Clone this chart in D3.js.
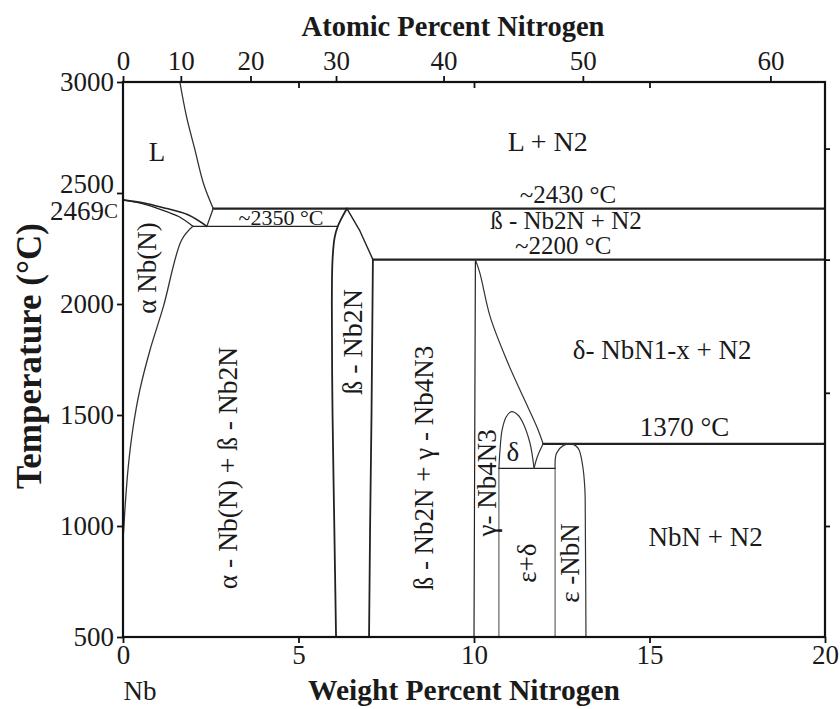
<!DOCTYPE html>
<html>
<head>
<meta charset="utf-8">
<script src="https://cdn.jsdelivr.net/npm/d3@7"></script>
<style>
  html, body { margin: 0; padding: 0; background: #fff; }
  svg { display: block; }
  text { font-family: "Liberation Serif", "Times New Roman", serif; fill: #1a1a1a; }
</style>
</head>
<body>
<svg id="chart" width="840" height="709"></svg>
<script>
// ---- axis ticks ----
const tempTicks = [500, 1000, 1500, 2000, 2500, 3000];
const weightTicks = [0, 5, 10, 15, 20];
const atomicTicks = [0, 10, 20, 30, 40, 50, 60];
const rightTicks = [2700, 2200, 1600, 1000];

// ---- invariant reactions (°C) and their composition spans (wt% N) ----
const isothermTemps = [2430, 2350, 2200, 1370, 1260];
const isothermFrom  = [2.57, 1.99, 7.12, 11.97, 10.71];
const isothermTo    = [20,   6.12, 20,   20,    12.31];

// ---- phase boundaries, [wt% N, °C] ----
const liquidus      = [[1.62, 3000], [1.81, 2844], [2.05, 2694], [2.29, 2544], [2.57, 2430]];
const liquidusTail  = [[2.57, 2430], [2.39, 2350]];
const solidusUpper  = [[0, 2469], [0.6, 2455], [1.1, 2436], [1.85, 2402], [2.39, 2350]];
const solidusLower  = [[0, 2469], [0.6, 2450], [1.0, 2430], [1.6, 2393], [1.99, 2350]];
const alphaSolvus   = [[1.99, 2350], [1.67, 2288], [1.15, 1988], [0.77, 1793], [0.48, 1613],
                       [0.29, 1447], [0.15, 1267], [0.06, 1087], [0.02, 982], [0, 940]];
const betaLeft      = [[6.38, 2430], [6.24, 2390], [6.12, 2350], [6.03, 2300], [5.97, 2200],
                       [5.95, 2000], [5.97, 1500], [6.02, 1000], [6.07, 500]];
const betaRight     = [[6.38, 2430], [6.75, 2329], [7.12, 2200]];
const betaRightWall = [[7.12, 2200], [7.08, 1500], [7.04, 1000], [7.01, 500]];
const gammaLeftWall = [[10.04, 2200], [10.0, 500]];
const gammaSolvus   = [[10.04, 2200], [10.17, 2138], [10.46, 1943], [10.93, 1748],
                       [11.4, 1582], [11.79, 1447], [11.97, 1370]];
const gammaTail     = [[11.97, 1370], [11.8, 1310], [11.71, 1260]];
const deltaDome     = [[10.71, 1260], [10.74, 1340], [10.8, 1432], [10.92, 1492], [11.07, 1515],
                       [11.25, 1500], [11.4, 1463], [11.6, 1370], [11.71, 1260]];
const gammaRightWall = [[10.71, 1260], [10.71, 500]];
const epsLeftWall   = [[12.31, 1260], [12.31, 500]];
const epsDome       = [[12.31, 1260], [12.35, 1328], [12.54, 1362], [12.78, 1370], [12.97, 1350],
                       [13.1, 1267], [13.16, 1162], [13.17, 1059], [13.19, 500]];

// ---- region labels ----
const regionNames = ["L", "L + N2", "~2430 °C", "ß - Nb2N + N2", "~2200 °C", "~2350 °C",
                     "δ- NbN1-x + N2", "1370 °C", "NbN + N2", "δ"];
const verticalNames = ["α Nb(N)", "α - Nb(N) + ß - Nb2N", "ß - Nb2N", "ß - Nb2N + γ - Nb4N3",
                       "γ- Nb4N3", "ε+δ", "ε -NbN"];

// ---- layout ----
const svg = d3.select("#chart");
const x = d3.scaleLinear().domain([0, 20]).range([123, 825]);
const y = d3.scaleLinear().domain([500, 3000]).range([637, 82]);

// wt% N for a given at% N (Nb 92.906, N 14.007)
const atToWt = a => 100 * a * 14.007 / (a * 14.007 + (100 - a) * 92.906);

const smooth = d3.line().x(d => x(d[0])).y(d => y(d[1])).curve(d3.curveCatmullRom.alpha(0.5));
const straight = d3.line().x(d => x(d[0])).y(d => y(d[1]));

const plot = svg.append("g");

function drawPath(data, gen, width, color) {
  plot.append("path").attr("d", gen(data)).attr("fill", "none")
    .attr("stroke", color || "#222").attr("stroke-width", width)
    .attr("stroke-linejoin", "round").attr("stroke-linecap", "round");
}

// isotherms
const isoWidth = [2.2, 1.2, 2.2, 2.2, 1.2];
isothermTemps.forEach((t, i) => {
  drawPath([[isothermFrom[i], t], [isothermTo[i], t]], straight, isoWidth[i]);
});

// boundaries
drawPath(liquidus, smooth, 1.3, "#333");
drawPath(liquidusTail, straight, 1.3, "#333");
drawPath(solidusUpper, smooth, 1.6);
drawPath(solidusLower, smooth, 1.3);
drawPath(alphaSolvus, smooth, 1.3, "#333");
drawPath(betaLeft, smooth, 1.8);
drawPath(betaRight, straight, 1.4);
drawPath(betaRightWall, straight, 1.8);
drawPath(gammaLeftWall, straight, 1.2);
drawPath(gammaSolvus, smooth, 1.2, "#333");
drawPath(gammaTail, smooth, 1.2, "#333");
drawPath(deltaDome, smooth, 1.2, "#333");
drawPath(gammaRightWall, straight, 1.0, "#444");
drawPath(epsLeftWall, straight, 1.0, "#444");
drawPath(epsDome, smooth, 1.2, "#333");

// frame
plot.append("rect").attr("x", x(0)).attr("y", y(3000))
  .attr("width", x(20) - x(0)).attr("height", y(500) - y(3000))
  .attr("fill", "none").attr("stroke", "#111").attr("stroke-width", 2.2);

function styleAxis(sel, size) {
  sel.select(".domain").remove();
  sel.selectAll(".tick line").attr("stroke", "#111").attr("stroke-width", 1.8);
  sel.selectAll(".tick text").attr("font-family", "Liberation Serif")
    .attr("font-size", size).attr("fill", "#1a1a1a");
}

// bottom axis (weight %)
const axisB = svg.append("g").attr("transform", `translate(0,${y(500)})`)
  .call(d3.axisBottom(x).tickValues(weightTicks).tickSize(6).tickPadding(2).tickFormat(d3.format("d")));
styleAxis(axisB, 27);

// top axis (atomic %), outward ticks
const axisT = svg.append("g").attr("transform", `translate(0,${y(3000)})`)
  .call(d3.axisTop(x).tickValues(atomicTicks.map(atToWt)).tickSize(6).tickPadding(6)
    .tickFormat((d, i) => atomicTicks[i]));
styleAxis(axisT, 27);

// top axis inward marks at the weight-% ticks
const axisTInner = svg.append("g").attr("transform", `translate(0,${y(3000)})`)
  .call(d3.axisTop(x).tickValues(weightTicks.slice(1, -1)).tickSize(-6).tickFormat(""));
styleAxis(axisTInner, 0);

// left axis
const axisL = svg.append("g").attr("transform", `translate(${x(0)},0)`)
  .call(d3.axisLeft(y).tickValues(tempTicks).tickSize(6).tickPadding(3).tickFormat(d3.format("d")));
styleAxis(axisL, 27);
axisL.selectAll(".tick text").filter(d => d === 2500).attr("dy", "-0.02em");

// melting point of Nb
const mp = svg.append("text").attr("x", x(0) - 5).attr("y", y(2469) + 11)
  .attr("text-anchor", "end").attr("dominant-baseline", "central").attr("font-size", 27);
mp.append("tspan").text("2469");
mp.append("tspan").attr("font-size", 21).text("C");

// right axis, outward marks
const axisR = svg.append("g").attr("transform", `translate(${x(20)},0)`)
  .call(d3.axisRight(y).tickValues(rightTicks).tickSize(5).tickFormat(""));
styleAxis(axisR, 0);

// axis titles
svg.append("text").attr("x", 453).attr("y", 36).attr("text-anchor", "middle")
  .attr("font-size", 28.5).attr("font-weight", "bold").text("Atomic Percent Nitrogen");
svg.append("text").attr("x", 464).attr("y", 700).attr("text-anchor", "middle")
  .attr("font-size", 29.5).attr("font-weight", "bold").text("Weight Percent Nitrogen");
svg.append("text").attr("x", 140).attr("y", 700).attr("text-anchor", "middle")
  .attr("font-size", 27).text("Nb");
svg.append("text").attr("transform", "translate(29,356) rotate(-90)").attr("text-anchor", "middle")
  .attr("dominant-baseline", "central")
  .attr("font-size", 35).attr("font-weight", "bold").text("Temperature (°C)");

// horizontal region labels: [wt%, °C, font size]
const regionAt = [[0.97, 2685, 27], [12.1, 2730, 28], [12.68, 2495, 25], [12.62, 2378, 25],
                  [12.54, 2265, 25], [4.5, 2390, 22], [15.36, 1793, 27], [16.0, 1446, 27],
                  [16.6, 950, 27], [11.11, 1333, 27]];
regionNames.forEach((name, i) => {
  const p = regionAt[i];
  svg.append("text").attr("x", x(p[0])).attr("y", y(p[1]))
    .attr("text-anchor", "middle").attr("dominant-baseline", "central")
    .attr("font-size", p[2]).text(name);
});

// vertical region labels: [wt%, °C, font size]
const verticalAt = [[0.68, 2162, 27], [2.99, 1261, 27.5], [6.55, 1829, 28], [8.58, 1261, 27],
                    [10.37, 1194, 27], [11.51, 833, 27], [12.74, 833, 27]];
verticalNames.forEach((name, i) => {
  const p = verticalAt[i];
  svg.append("text").attr("transform", `translate(${x(p[0])},${y(p[1])}) rotate(-90)`)
    .attr("text-anchor", "middle").attr("dominant-baseline", "central")
    .attr("font-size", p[2]).text(name);
});
</script>
</body>
</html>
